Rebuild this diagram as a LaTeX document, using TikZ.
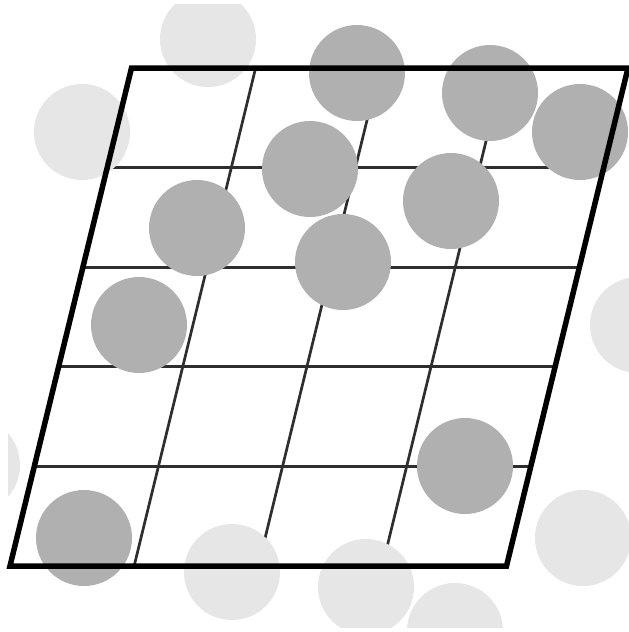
\documentclass[tikz,border=0pt]{standalone}
\usetikzlibrary{calc}
\definecolor{darkdisc}{HTML}{B0B0B0}
\definecolor{lightdisc}{HTML}{E6E6E6}
\definecolor{gridcol}{HTML}{2E2E2E}
\tikzset{
  gridline/.style={draw=gridcol, line width=2.7pt},
  darkball/.style={fill=darkdisc},
  lightball/.style={fill=lightdisc},
  cellborder/.style={draw=black, line width=5.5pt, line join=miter}
}
\begin{document}
\begin{tikzpicture}[x=1pt,y=-1pt]
\useasboundingbox (0,0) rectangle (629,632);
\fill[white] (0,0) rectangle (629,632);
\coordinate (TL) at (131.5,68);
\coordinate (TR) at (628,68);
\coordinate (BL) at (10,566);
\coordinate (BR) at (506.5,566);
% grid
\foreach \k in {1,2,3,4}
  \draw[gridline] ($(TL)!\k/5!(BL)$) -- ($(TR)!\k/5!(BR)$);
\foreach \k in {1,2,3}
  \draw[gridline] ($(TL)!\k/4!(TR)$) -- ($(BL)!\k/4!(BR)$);
% discs
\begin{scope}
  \clip (8,4) rectangle (629,627);
  \foreach \x/\y in {208/39, 82/132, 638/325, -28/465, 232/572, 366/587, 455/631, 583/538}
    \fill[lightball] (\x,\y) circle (48);
  \foreach \x/\y in {357/73, 490/93, 580/132, 310/169, 451/201, 197/228, 343/262, 139/325, 465/466, 84/538}
    \fill[darkball] (\x,\y) circle (48);
\end{scope}
% border
\draw[cellborder] (TL) -- (TR) -- (BR) -- (BL) -- cycle;
\end{tikzpicture}
\end{document}
